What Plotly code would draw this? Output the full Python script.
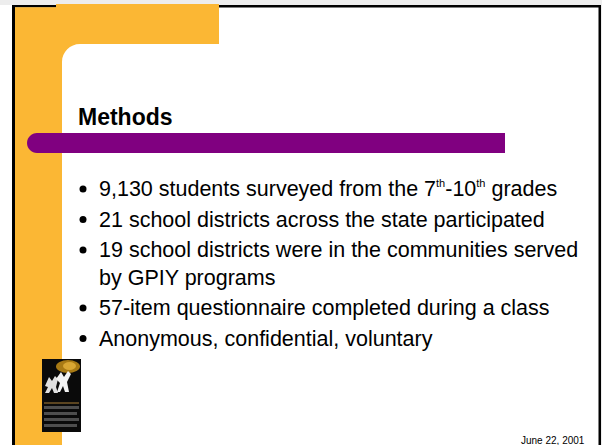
import plotly.graph_objects as go

# ---- content ----
title_text = "Methods"
bullet_items = [
    ["9,130 students surveyed from the 7<sup>th</sup>-10<sup>th</sup> grades"],
    ["21 school districts across the state participated"],
    ["19 school districts were in the communities served", "by GPIY programs"],
    ["57-item questionnaire completed during a class"],
    ["Anonymous, confidential, voluntary"],
]
date_text = "June 22, 2001"

# ---- layout constants ----
W, H = 602, 445
ORANGE = "#FBB734"
PURPLE = "#800080"
FONT = "Liberation Sans, Arial, sans-serif"
first_row_y = 189
para_gap = 30.5
line_gap = 27.5
text_x = 97
bullet_x = 83

shapes = []
# light gray strip at top (window background)
shapes.append(dict(type="rect", x0=0, x1=W, y0=0, y1=5, fillcolor="#ededed", line_width=0, layer="above"))
# frame
shapes.append(dict(type="rect", x0=12, x1=15, y0=5, y1=H, fillcolor="black", line_width=0, layer="above"))
shapes.append(dict(type="rect", x0=12, x1=601, y0=5, y1=7.5, fillcolor="black", line_width=0, layer="above"))
shapes.append(dict(type="rect", x0=598.5, x1=601, y0=5, y1=H, fillcolor="black", line_width=0, layer="above"))
shapes.append(dict(type="rect", x0=601, x1=W, y0=0, y1=H, fillcolor="#ededed", line_width=0, layer="above"))
# orange bands
shapes.append(dict(type="rect", x0=15, x1=62, y0=7.5, y1=H, fillcolor=ORANGE, line_width=0, layer="above"))
shapes.append(dict(type="rect", x0=15, x1=56, y0=7.5, y1=44, fillcolor=ORANGE, line_width=0, layer="above"))
shapes.append(dict(type="rect", x0=56, x1=219, y0=4, y1=44, fillcolor=ORANGE, line_width=0, layer="above"))
# inner rounded corner
k = 0.5523 * 18
shapes.append(dict(type="path",
                   path=f"M 62,44 L 80,44 C {80-k},44 62,{62-k} 62,62 Z",
                   fillcolor=ORANGE, line_width=0, layer="above"))
# purple title bar with rounded left end
r = 10
cx, cy = 37, 143
shapes.append(dict(type="path",
                   path=(f"M {cx},{cy-r} L 505,{cy-r} L 505,{cy+r} L {cx},{cy+r} "
                         f"C {cx-0.5523*r},{cy+r} {cx-r},{cy+0.5523*r} {cx-r},{cy} "
                         f"C {cx-r},{cy-0.5523*r} {cx-0.5523*r},{cy-r} {cx},{cy-r} Z"),
                   fillcolor=PURPLE, line_width=0, layer="above"))
# logo (approximate)
shapes.append(dict(type="rect", x0=42, x1=81, y0=359, y1=432, fillcolor="#0a0a0a", line_width=0, layer="above"))
shapes.append(dict(type="circle", x0=56, x1=80, y0=360, y1=373, fillcolor="#a87a14", line_width=0, layer="above"))
shapes.append(dict(type="circle", x0=63, x1=76, y0=362, y1=370, fillcolor="#d9a733", line_width=0, layer="above"))
shapes.append(dict(type="path",
                   path="M 45,386 L 49,377 L 52,381 L 55,376 L 58,379 L 56,387 L 58,393 L 54,393 L 52,388 L 49,393 L 45,393 L 48,387 Z",
                   fillcolor="#e0e0e0", line_width=0, layer="above"))
shapes.append(dict(type="path",
                   path="M 56,379 L 61,372 L 64,377 L 68,371 L 71,374 L 67,382 L 69,392 L 65,392 L 63,386 L 60,392 L 57,392 L 60,383 Z",
                   fillcolor="#f2f2f2", line_width=0, layer="above"))
shapes.append(dict(type="rect", x0=44, x1=79, y0=402, y1=404, fillcolor="#5a4420", line_width=0, layer="above"))
for i, yy in enumerate([406, 412, 418, 424]):
    shapes.append(dict(type="rect", x0=44, x1=79 if i % 2 == 0 else 77, y0=yy, y1=yy + 3,
                       fillcolor="#4e4e4e", line_width=0, layer="above"))

annotations = []
annotations.append(dict(x=75.5, y=117, xref="x", yref="y", text=f"<b>{title_text}</b>",
                        showarrow=False, xanchor="left", yanchor="middle",
                        font=dict(family=FONT, size=23, color="black")))

bullet_xs, bullet_ys = [], []
y = first_row_y
for item in bullet_items:
    bullet_xs.append(bullet_x)
    bullet_ys.append(y)
    for j, line in enumerate(item):
        line = line.replace("<sup>", "<sup><span style='font-size:11px'>").replace("</sup>", "</span></sup>")
        annotations.append(dict(x=text_x, y=y, xref="x", yref="y", text=line,
                                showarrow=False, xanchor="left", yanchor="middle",
                                font=dict(family=FONT, size=21.5, color="black")))
        if j < len(item) - 1:
            y += line_gap
    y += para_gap

annotations.append(dict(x=519, y=440.5, xref="x", yref="y", text=date_text,
                        showarrow=False, xanchor="left", yanchor="middle",
                        font=dict(family=FONT, size=10, color="black")))

fig = go.Figure()
fig.add_trace(go.Scatter(x=bullet_xs, y=bullet_ys, mode="markers",
                         marker=dict(color="black", size=7, symbol="circle"),
                         hoverinfo="skip", showlegend=False, cliponaxis=False))
fig.update_layout(
    width=W, height=H,
    margin=dict(l=0, r=0, t=0, b=0),
    paper_bgcolor="white", plot_bgcolor="white",
    xaxis=dict(range=[0, W], visible=False, fixedrange=True),
    yaxis=dict(range=[H, 0], visible=False, fixedrange=True),
    shapes=shapes, annotations=annotations,
    showlegend=False,
)
fig.write_html("out.html", config={"displayModeBar": False},
               post_script="document.body.style.margin='0';document.body.style.overflow='hidden';")
